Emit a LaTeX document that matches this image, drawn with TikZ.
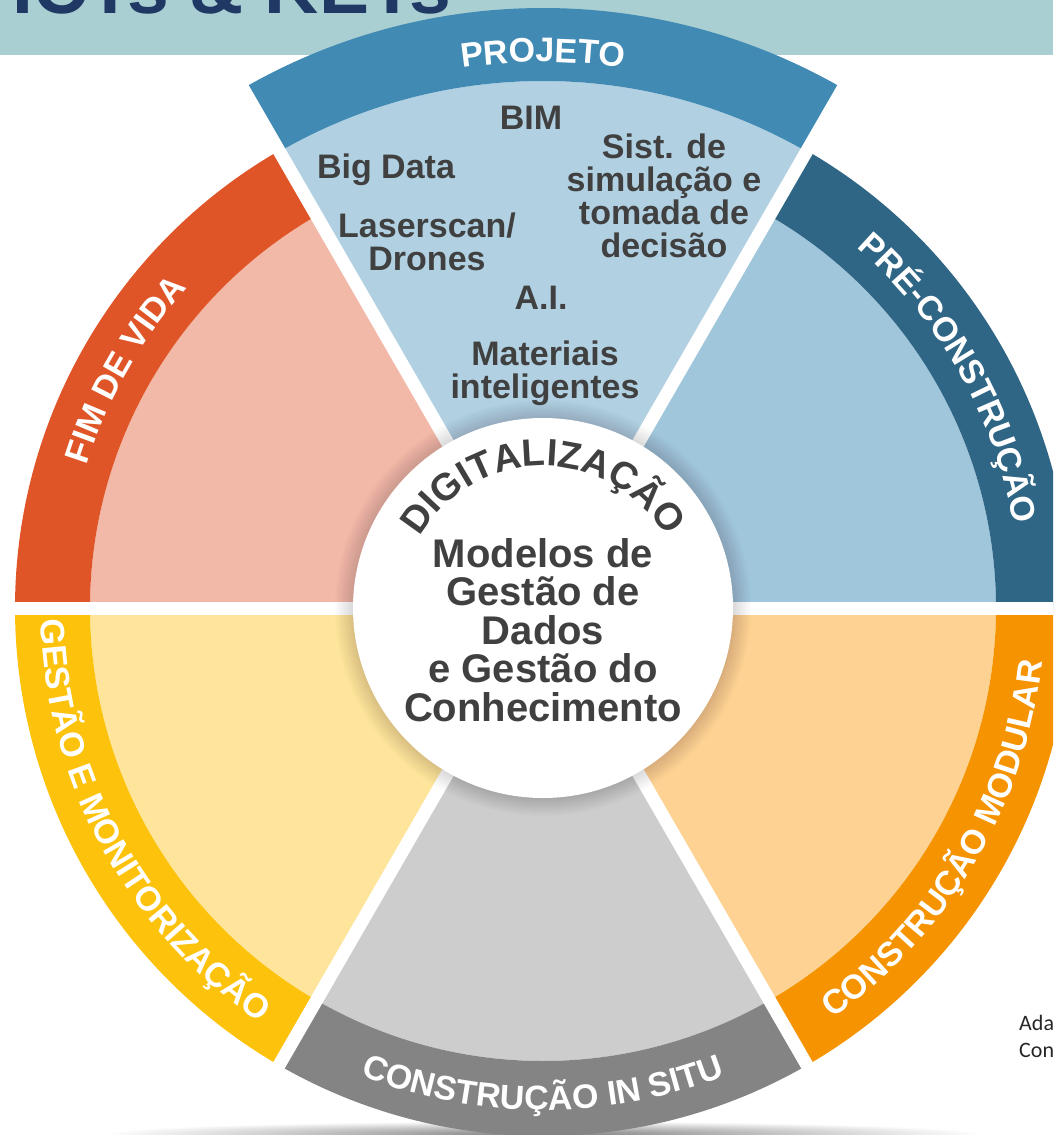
\documentclass[tikz,border=0pt]{standalone}
\usepackage{fontspec}
\setmainfont{Liberation Sans}
\newfontfamily\notefont{Carlito}
\usetikzlibrary{decorations.text}

\definecolor{projband}{HTML}{418AB4}
\definecolor{projfill}{HTML}{B1D1E3}
\definecolor{preband}{HTML}{2F6585}
\definecolor{prefill}{HTML}{A0C6DC}
\definecolor{modband}{HTML}{F59400}
\definecolor{modfill}{HTML}{FDD293}
\definecolor{situband}{HTML}{848484}
\definecolor{situfill}{HTML}{CDCDCD}
\definecolor{gestband}{HTML}{FDC20C}
\definecolor{gestfill}{HTML}{FEE59B}
\definecolor{fimband}{HTML}{E05527}
\definecolor{fimfill}{HTML}{F2B9A8}
\definecolor{darktext}{HTML}{404040}
\definecolor{bannerteal}{HTML}{A9CFD2}
\definecolor{titlenavy}{HTML}{1F3864}

% one slice of the wheel: start, end, inner r, outer r, fill, band
\newcommand{\wheelpart}[6]{%
  \fill[#5] (0,0) -- (#1:#3) arc[start angle=#1, end angle=#2, radius=#3] -- cycle;
  \fill[#6] (#1:#3) arc[start angle=#1, end angle=#2, radius=#3]
    -- (#2:#4) arc[start angle=#2, end angle=#1, radius=#4] -- cycle;}

% curved white label on a band
\newcommand{\bandlabel}[4]{%
  \path[decorate, decoration={text along path, text align=center,
    text={|\fontsize{34}{34}\selectfont\bfseries\color{white}|#4}}]
    (#1:#3) arc[start angle=#1, end angle=#2, radius=#3];}

\begin{document}
\begin{tikzpicture}[x=1pt, y=1pt,
    item/.style={text=darktext, align=center, inner sep=0pt, font=\fontsize{34}{33}\selectfont\bfseries},
    core/.style={text=darktext, align=center, inner sep=0pt, font=\fontsize{40}{38.5}\selectfont\bfseries},
    note/.style={anchor=base west, inner sep=0pt, text=black!85, font=\notefont\fontsize{22}{27}\selectfont}]

\useasboundingbox (0,0) rectangle (1053,-1135);
\begin{scope}
\clip (0,0) rectangle (1053,-1135);

% banner
\fill[bannerteal] (0,0) rectangle (1053,-55);
\node[anchor=base west, inner sep=0pt, text=titlenavy, font=\fontsize{75}{75}\selectfont\bfseries] (title) at (12,-13) {ICTs \& KETs};

% floor shadow
\shade[inner color=black!50, outer color=white] (543,-1134) ellipse (440 and 13);

\begin{scope}[shift={(543,-608)}]
  \wheelpart{60}{120}{527}{600}{projfill}{projband}
  \wheelpart{0}{60}{453}{528}{prefill}{preband}
  \wheelpart{-60}{0}{453}{528}{modfill}{modband}
  \wheelpart{240}{300}{453}{528}{situfill}{situband}
  \wheelpart{180}{240}{453}{528}{gestfill}{gestband}
  \wheelpart{120}{180}{453}{528}{fimfill}{fimband}

  % gaps
  \foreach \a/\r in {0/560,60/610,120/610,180/560,240/531,300/531}
    \draw[white, line width=13] (0,0) -- (\a:\r);

  % hub
  \foreach \k in {1,...,12}
    \fill[black, opacity=0.01] (0,0) circle (190+1.5*\k);
  \fill[white] (0,0) circle (190);

  \bandlabel{120}{60}{546}{PROJETO}
  \bandlabel{60}{-1}{478}{PRÉ-CONSTRUÇÃO}
  \bandlabel{180.3}{120.3}{478}{FIM DE VIDA}
  \bandlabel{178}{239}{502}{GESTÃO E MONITORIZAÇÃO}
  \bandlabel{240}{300}{502}{CONSTRUÇÃO IN SITU}
  \bandlabel{-61}{0}{502}{CONSTRUÇÃO MODULAR}

  \path[decorate, decoration={text along path, text align=center,
    text={|\fontsize{38}{38}\selectfont\bfseries\color{darktext}|DIGITALIZAÇÃO}}]
    (170:142) arc[start angle=170, end angle=10, radius=142];
\end{scope}

% project tools
\node[item] (bim) at (531,-118) {BIM};
\node[item] (bigdata) at (386,-170) {Big Data};
\node[item] (simul) at (664,-196) {Sist. de\\simulação e\\tomada de\\decisão};
\node[item] (laser) at (427,-242) {Laserscan/\\Drones};
\node[item] (ai) at (541,-298) {A.I.};
\node[item] (mat) at (545,-373) {Materiais\\inteligentes};

% hub text
\node[core] (modelos) at (543,-630) {Modelos de\\Gestão de\\Dados\\e Gestão do\\Conhecimento};

% source note
\node[note] (ada) at (1019,-1030) {Ada};
\node[note] (con) at (1019,-1057) {Con};
\end{scope}
\end{tikzpicture}
\end{document}
